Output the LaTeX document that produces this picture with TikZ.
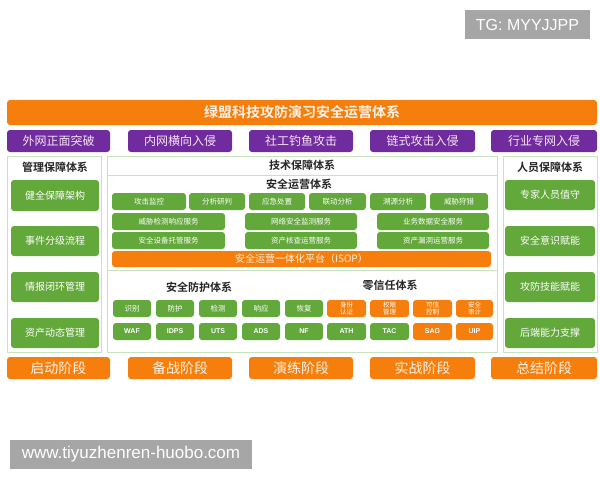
\documentclass[tikz,border=0pt]{standalone}
\usepackage{fontspec}
\setmainfont{Liberation Sans}
\newfontfamily\cjk{Noto Sans CJK SC}
\newfontfamily\cjkb{Noto Sans CJK SC Bold}
\definecolor{orgc}{RGB}{246,126,12}
\definecolor{purc}{RGB}{112,44,158}
\definecolor{grn}{RGB}{98,168,58}
\definecolor{pnl}{RGB}{200,228,190}
\definecolor{wmk}{RGB}{166,166,166}
\definecolor{ptxt}{RGB}{246,226,246}
\newcommand\mkbox[7]{\node[#2,minimum width={(#5-#3)*1pt},minimum height={(#6-#4)*1pt}] (#1) at ({(#3+#5)/2},{(#4+#6)/2}) {#7};}
\tikzset{
  every node/.style={inner sep=0pt,outer sep=0pt},
  orangebar/.style={fill=orgc,rounded corners=3pt,text=white,font=\cjk},
  purplebox/.style={fill=purc,rounded corners=3pt,text=ptxt,font=\cjk\fontsize{12}{12}\selectfont},
  panel/.style={draw=pnl,line width=0.8pt,fill=white},
  greenbox/.style={fill=grn,rounded corners=3pt,text=white,font=\cjk},
  bigg/.style={greenbox,font=\cjk\fontsize{10}{10}\selectfont},
  smallg/.style={greenbox,font=\cjk\fontsize{7.5}{8}\selectfont},
  tinyg/.style={greenbox,font=\cjk\fontsize{7.5}{8}\selectfont},
  tinyo/.style={orangebar,font=\cjk\fontsize{6.5}{7.5}\selectfont,align=center},
  abbr/.style={font=\bfseries\fontsize{7}{7}\selectfont},
  ptitle/.style={font=\cjkb\fontsize{11}{11}\selectfont,text=black!85},
  phase/.style={orangebar,font=\cjk\fontsize{14}{14}\selectfont,text=white!92!orgc},
  wm/.style={fill=wmk,text=white}
}
\begin{document}
\begin{tikzpicture}[x=1pt,y=-1pt]
\useasboundingbox (0,0) rectangle (600,480);
\fill[white] (0,0) rectangle (600,480);
% watermarks
\mkbox{wmtg}{wm,font=\fontsize{16}{16}\selectfont}{465}{10}{590}{39}{TG: MYYJJPP}
\mkbox{wmurl}{wm,font=\fontsize{17}{17}\selectfont}{10}{440}{252}{469}{www.tiyuzhenren-huobo.com}
% title
\mkbox{title}{orangebar,font=\cjkb\fontsize{14}{14}\selectfont,text=white!90!orgc}{7}{100}{597}{125}{绿盟科技攻防演习安全运营体系}
% attack row
\mkbox{a1}{purplebox}{7}{130}{110}{152}{外网正面突破}
\mkbox{a2}{purplebox}{128}{130}{232}{152}{内网横向入侵}
\mkbox{a3}{purplebox}{249}{130}{353}{152}{社工钓鱼攻击}
\mkbox{a4}{purplebox}{370}{130}{475}{152}{链式攻击入侵}
\mkbox{a5}{purplebox}{491}{130}{597}{152}{行业专网入侵}
% left panel
\mkbox{lp}{panel}{7}{156}{101}{352}{}
\node[ptitle] (lpt) at (55,167) {管理保障体系};
\mkbox{l1}{bigg}{11}{180}{99}{211}{健全保障架构}
\mkbox{l2}{bigg}{11}{226}{99}{256}{事件分级流程}
\mkbox{l3}{bigg}{11}{272}{99}{302}{情报闭环管理}
\mkbox{l4}{bigg}{11}{318}{99}{348}{资产动态管理}
% right panel
\mkbox{rp}{panel}{503}{156}{597}{352}{}
\node[ptitle] (rpt) at (550,167) {人员保障体系};
\mkbox{r1}{bigg}{505}{180}{595}{210}{专家人员值守}
\mkbox{r2}{bigg}{505}{226}{595}{256}{安全意识赋能}
\mkbox{r3}{bigg}{505}{272}{595}{302}{攻防技能赋能}
\mkbox{r4}{bigg}{505}{318}{595}{348}{后端能力支撑}
% middle panel
\mkbox{th}{panel,ptitle}{107}{156}{497}{175}{技术保障体系}
\mkbox{ops}{panel}{107}{175}{497}{270}{}
\mkbox{prot}{panel}{107}{270}{497}{352}{}
\node[ptitle] (opst) at (299,184) {安全运营体系};
\mkbox{o1}{smallg}{112}{193}{186}{210}{攻击监控}
\mkbox{o2}{smallg}{189}{193}{245}{210}{分析研判}
\mkbox{o3}{smallg}{249}{193}{305}{210}{应急处置}
\mkbox{o4}{smallg}{309}{193}{366}{210}{联动分析}
\mkbox{o5}{smallg}{370}{193}{426}{210}{溯源分析}
\mkbox{o6}{smallg}{430}{193}{488}{210}{威胁狩猎}
\mkbox{s1}{smallg}{112}{213}{225}{230}{威胁检测响应服务}
\mkbox{s2}{smallg}{245}{213}{357}{230}{网络安全监测服务}
\mkbox{s3}{smallg}{377}{213}{489}{230}{业务数据安全服务}
\mkbox{s4}{smallg}{112}{232}{225}{249}{安全设备托管服务}
\mkbox{s5}{smallg}{245}{232}{357}{249}{资产核查运营服务}
\mkbox{s6}{smallg}{377}{232}{489}{249}{资产漏洞运营服务}
\mkbox{isop}{orangebar,font=\cjk\fontsize{10}{10}\selectfont,text=white!90!orgc}{112}{251}{491}{267}{安全运营一体化平台（ISOP）}
% protection / zero trust
\node[ptitle] (pt1) at (199,287) {安全防护体系};
\node[ptitle] (pt2) at (390,285) {零信任体系};
\mkbox{p1}{tinyg}{113}{300}{151}{317}{识别}
\mkbox{p2}{tinyg}{156}{300}{194}{317}{防护}
\mkbox{p3}{tinyg}{199}{300}{237}{317}{检测}
\mkbox{p4}{tinyg}{242}{300}{280}{317}{响应}
\mkbox{p5}{tinyg}{285}{300}{323}{317}{恢复}
\mkbox{z1}{tinyo}{327}{300}{366}{317}{身份\\认证}
\mkbox{z2}{tinyo}{370}{300}{409}{317}{权限\\管理}
\mkbox{z3}{tinyo}{413}{300}{452}{317}{可信\\控制}
\mkbox{z4}{tinyo}{456}{300}{493}{317}{安全\\审计}
\mkbox{q1}{tinyg,abbr}{113}{323}{151}{340}{WAF}
\mkbox{q2}{tinyg,abbr}{156}{323}{194}{340}{IDPS}
\mkbox{q3}{tinyg,abbr}{199}{323}{237}{340}{UTS}
\mkbox{q4}{tinyg,abbr}{242}{323}{280}{340}{ADS}
\mkbox{q5}{tinyg,abbr}{285}{323}{323}{340}{NF}
\mkbox{q6}{tinyg,abbr}{327}{323}{366}{340}{ATH}
\mkbox{q7}{tinyg,abbr}{370}{323}{409}{340}{TAC}
\mkbox{q8}{tinyo,abbr}{413}{323}{452}{340}{SAG}
\mkbox{q9}{tinyo,abbr}{456}{323}{493}{340}{UIP}
% phases
\mkbox{f1}{phase}{7}{357}{110}{379}{启动阶段}
\mkbox{f2}{phase}{128}{357}{232}{379}{备战阶段}
\mkbox{f3}{phase}{249}{357}{353}{379}{演练阶段}
\mkbox{f4}{phase}{370}{357}{475}{379}{实战阶段}
\mkbox{f5}{phase}{491}{357}{597}{379}{总结阶段}
\end{tikzpicture}
\end{document}
